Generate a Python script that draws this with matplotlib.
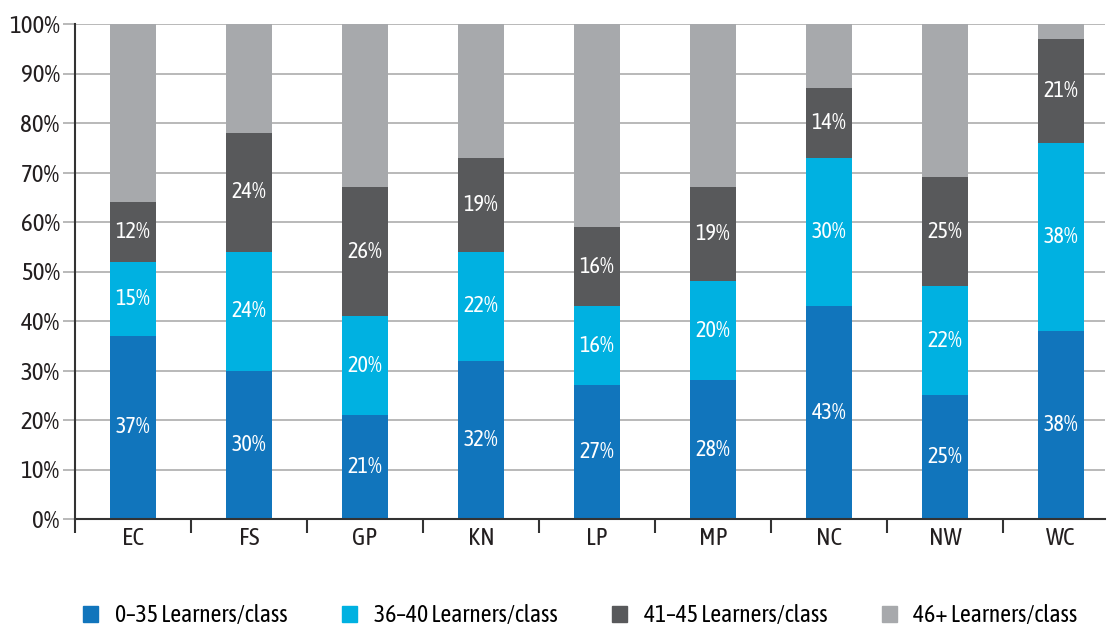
import matplotlib
matplotlib.use("Agg")
import matplotlib.pyplot as plt
from matplotlib.patches import Patch

plt.rcParams['font.family'] = ['Asap Condensed', 'DejaVu Sans']

regions = ["EC", "FS", "GP", "KN", "LP", "MP", "NC", "NW", "WC"]
# bar heights as drawn
small = [37, 30, 21, 32, 27, 28, 43, 25, 38]
mid = [15, 24, 20, 22, 16, 20, 30, 22, 38]
large = [12, 24, 26, 19, 16, 19, 14, 22, 21]
huge = [36, 22, 33, 27, 41, 33, 13, 31, 3]
# printed labels (NW dark segment is labelled 25%)
small_lab = small
mid_lab = mid
large_lab = [12, 24, 26, 19, 16, 19, 14, 25, 21]

series = [small, mid, large, huge]
series_lab = [small_lab, mid_lab, large_lab, None]
labels = ["0\u201335 Learners/class", "36\u201340 Learners/class",
          "41\u201345 Learners/class", "46+ Learners/class"]
colors = ["#1175bc", "#00b1e1", "#58595b", "#a7a9ac"]
dark = "#231f20"

fig = plt.figure(figsize=(11.1, 6.26), dpi=100)
ax = fig.add_axes([75 / 1110, 1 - 519 / 626, 1030 / 1110, 495 / 626])

x = list(range(len(regions)))
bottom = [0] * len(regions)
for vals, labs, col in zip(series, series_lab, colors):
    ax.bar(x, vals, 0.4, bottom=bottom, color=col, zorder=2)
    if labs is not None:
        for xi, b, v, lab in zip(x, bottom, vals, labs):
            ax.text(xi, b + v / 2, f"{lab}%", ha="center", va="center",
                    color="white", fontsize=16, zorder=3)
    bottom = [b + v for b, v in zip(bottom, vals)]

ax.set_xlim(-0.5, 1030 / 116 - 0.5)
ax.set_ylim(0, 100)
ax.set_yticks(range(0, 101, 10))
ax.set_yticklabels([f"{t}%" for t in range(0, 101, 10)], fontsize=18, color=dark)
ax.yaxis.grid(True, color="#b3b3b3", linewidth=1.3, zorder=0)
ax.tick_params(axis="y", length=9, width=1.3, color="#b3b3b3", pad=2)

ax.set_xticks([i + 0.5 for i in range(-1, 8)])
ax.set_xticklabels([])
ax.set_xticks(x, minor=True)
ax.set_xticklabels(regions, minor=True, fontsize=18, color=dark)
ax.tick_params(axis="x", which="major", length=10, width=1.5, color="#333333")
ax.tick_params(axis="x", which="minor", length=0, pad=6)

for s in ["top", "right"]:
    ax.spines[s].set_visible(False)
for s in ["left", "bottom"]:
    ax.spines[s].set_linewidth(1.5)
    ax.spines[s].set_color("#333333")

handles = [Patch(color=c, label=l) for c, l in zip(colors, labels)]
fig.legend(handles=handles, loc="center left", bbox_to_anchor=(83 / 1110, 1 - 616 / 626),
           ncol=4, frameon=False, fontsize=17, handlelength=0.65, handleheight=0.65,
           columnspacing=2.3, handletextpad=0.7, borderaxespad=0, borderpad=0)

fig.savefig("out.png", dpi=100)
